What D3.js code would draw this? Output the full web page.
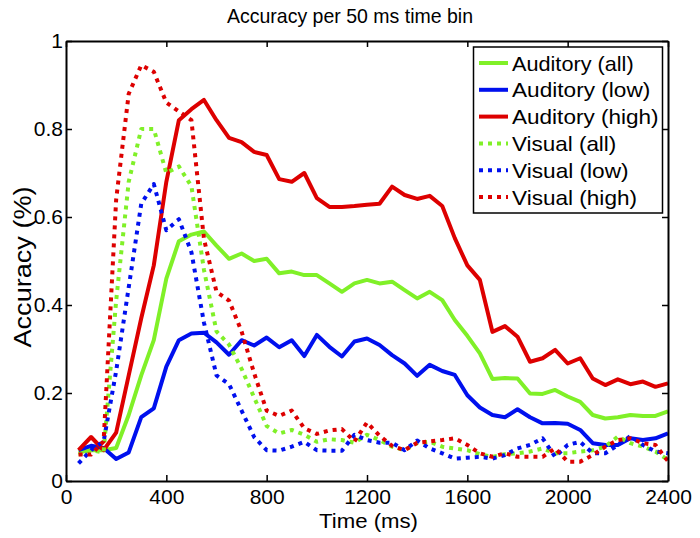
<!DOCTYPE html>
<html><head><meta charset="utf-8">
<script src="https://cdn.jsdelivr.net/npm/d3@7"></script>
<style>
body{margin:0;background:#fff;}
svg{font-family:"Liberation Sans",Arial,Helvetica,sans-serif;}
</style></head>
<body><svg id="c" width="700" height="538"></svg>
<script>
const times = d3.range(50, 2401, 50);
const xTicks = [0, 400, 800, 1200, 1600, 2000, 2400];
const yTicks = [0, 0.2, 0.4, 0.6, 0.8, 1];
const seriesNames = ["Auditory (all)", "Auditory (low)", "Auditory (high)", "Visual (all)", "Visual (low)", "Visual (high)"];
const seriesColors = ["#80f028", "#0010ee", "#dd0000", "#80f028", "#0010ee", "#dd0000"];
const seriesDashed = [false, false, false, true, true, true];

const audAll = [0.065,0.07,0.07,0.075,0.15,0.24,0.32,0.46,0.545,0.56,0.567,0.535,0.505,0.517,0.50,0.505,0.472,0.476,0.468,0.468,0.449,0.43,0.449,0.457,0.449,0.453,0.434,0.415,0.43,0.411,0.366,0.33,0.29,0.232,0.234,0.233,0.199,0.198,0.207,0.192,0.18,0.15,0.142,0.145,0.15,0.148,0.148,0.158];
const audLow = [0.07,0.08,0.075,0.05,0.065,0.145,0.165,0.26,0.32,0.335,0.337,0.315,0.287,0.32,0.308,0.326,0.304,0.32,0.284,0.332,0.305,0.283,0.317,0.324,0.309,0.286,0.267,0.239,0.264,0.25,0.241,0.195,0.167,0.15,0.145,0.163,0.145,0.131,0.132,0.13,0.116,0.086,0.082,0.082,0.097,0.093,0.097,0.108];
const audHigh = [0.07,0.10,0.07,0.11,0.24,0.37,0.49,0.68,0.82,0.845,0.866,0.82,0.78,0.77,0.748,0.741,0.686,0.68,0.70,0.643,0.623,0.623,0.625,0.628,0.63,0.669,0.65,0.641,0.648,0.625,0.552,0.49,0.457,0.339,0.352,0.328,0.271,0.279,0.298,0.267,0.279,0.233,0.218,0.231,0.22,0.226,0.214,0.222];
const visAll = [0.06,0.07,0.065,0.41,0.68,0.80,0.80,0.70,0.715,0.67,0.48,0.34,0.31,0.255,0.19,0.125,0.108,0.116,0.105,0.089,0.095,0.093,0.087,0.105,0.093,0.078,0.07,0.086,0.089,0.078,0.074,0.07,0.061,0.055,0.061,0.063,0.067,0.074,0.063,0.063,0.067,0.07,0.078,0.101,0.086,0.078,0.067,0.048];
const visLow = [0.04,0.07,0.09,0.25,0.44,0.63,0.675,0.57,0.595,0.52,0.36,0.24,0.22,0.16,0.10,0.07,0.069,0.078,0.089,0.07,0.069,0.069,0.105,0.093,0.087,0.087,0.07,0.092,0.074,0.063,0.051,0.053,0.055,0.051,0.059,0.074,0.082,0.097,0.055,0.082,0.089,0.063,0.063,0.082,0.102,0.082,0.067,0.063];
const visHigh = [0.06,0.06,0.09,0.64,0.88,0.945,0.93,0.86,0.84,0.82,0.55,0.43,0.41,0.34,0.245,0.16,0.148,0.16,0.12,0.107,0.115,0.118,0.09,0.133,0.103,0.08,0.07,0.087,0.09,0.093,0.097,0.082,0.063,0.055,0.063,0.055,0.055,0.055,0.074,0.044,0.044,0.059,0.078,0.093,0.097,0.086,0.082,0.045];
const seriesValues = [audAll, audLow, audHigh, visAll, visLow, visHigh];

const svg = d3.select("#c");
const L = 66, R = 668, T = 41, B = 481;
const x = d3.scaleLinear().domain([0, 2400]).range([L, R]);
const y = d3.scaleLinear().domain([0, 1]).range([B, T]);
const fmt = d => d3.format("~g")(d);

// lines
const line = d3.line().x((d, i) => x(times[i])).y(d => y(d));
seriesValues.forEach((vals, k) => {
  svg.append("path").datum(vals)
    .attr("d", line)
    .attr("fill", "none")
    .attr("stroke", seriesColors[k])
    .attr("stroke-width", 4)
    .attr("stroke-linejoin", "round")
    .attr("stroke-dasharray", seriesDashed[k] ? "4,5" : null);
});

// axes
const axStyle = g => {
  g.selectAll("path.domain").attr("stroke", "#000").attr("stroke-width", 2);
  g.selectAll(".tick line").attr("stroke", "#000").attr("stroke-width", 1.5);
  g.selectAll("text").attr("font-size", 21).attr("fill", "#000")
    .attr("font-family", "'Liberation Sans',Arial,Helvetica,sans-serif");
};
svg.append("g").attr("transform", `translate(0,${B})`)
  .call(d3.axisBottom(x).tickValues(xTicks).tickSizeInner(-6).tickSizeOuter(0).tickPadding(8).tickFormat(fmt))
  .call(axStyle);
svg.append("g").attr("transform", `translate(0,${T})`)
  .call(d3.axisTop(x).tickValues(xTicks).tickSizeInner(-6).tickSizeOuter(0).tickFormat(""))
  .call(axStyle);
svg.append("g").attr("transform", `translate(${L},0)`)
  .call(d3.axisLeft(y).tickValues(yTicks).tickSizeInner(-6).tickSizeOuter(0).tickPadding(3).tickFormat(fmt))
  .call(axStyle);
svg.append("g").attr("transform", `translate(${R},0)`)
  .call(d3.axisRight(y).tickValues(yTicks).tickSizeInner(-6).tickSizeOuter(0).tickFormat(""))
  .call(axStyle);

// titles
svg.append("text").attr("x", 350).attr("y", 23).attr("text-anchor", "middle")
  .attr("font-size", 21).attr("textLength", 246).attr("lengthAdjust", "spacingAndGlyphs")
  .text("Accuracy per 50 ms time bin");
svg.append("text").attr("x", 368.5).attr("y", 528).attr("text-anchor", "middle")
  .attr("font-size", 21).attr("textLength", 99).attr("lengthAdjust", "spacingAndGlyphs")
  .text("Time (ms)");
svg.append("text").attr("transform", `translate(31,267) rotate(-90)`).attr("text-anchor", "middle")
  .attr("font-size", 23).attr("textLength", 161).attr("lengthAdjust", "spacingAndGlyphs")
  .text("Accuracy (%)");

// legend
const legendWidths = [121.6, 138.3, 146.6, 104.3, 116.6, 125];
const lg = svg.append("g");
lg.append("rect").attr("x", 473.5).attr("y", 47).attr("width", 189).attr("height", 166)
  .attr("fill", "#fff").attr("stroke", "#000").attr("stroke-width", 1.5);
seriesNames.forEach((n, k) => {
  const cy = 63 + k * 26.8;
  lg.append("line").attr("x1", 479).attr("x2", 508).attr("y1", cy).attr("y2", cy)
    .attr("stroke", seriesColors[k]).attr("stroke-width", 4)
    .attr("stroke-dasharray", seriesDashed[k] ? "4,5" : null);
  lg.append("text").attr("x", 512).attr("y", cy + 7.5).attr("font-size", 21)
    .attr("textLength", legendWidths[k]).attr("lengthAdjust", "spacingAndGlyphs").text(n);
});
</script></body></html>
